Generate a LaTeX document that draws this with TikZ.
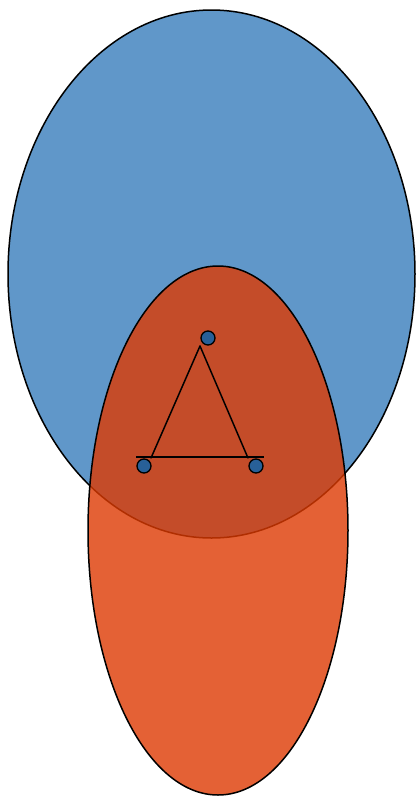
\documentclass[tikz,border=0pt]{standalone}
\usepackage{xcolor}
\usepackage{tikz}
\usetikzlibrary{arrows.meta,shapes,positioning,calc}
\definecolor{vnblue}{RGB}{96,151,201}
\definecolor{vnorange}{RGB}{221,58,2}
\definecolor{vndot}{RGB}{40,96,152}
\tikzset{
  vnsetA/.style={
    ellipse, draw=black, fill=vnblue, line width=1.5pt,
    inner sep=0pt
  },
  vnsetB/.style={
    ellipse, draw=black, fill=vnorange, fill opacity=0.8, line width=1.5pt,
    inner sep=0pt
  },
  vndot/.style={circle,draw=black,fill=vndot,line width=1.3pt,minimum size=14pt,inner sep=0pt},
  vnedge/.style={line width=1.5pt,line cap=round}
}
\begin{document}
\begin{tikzpicture}[x=1pt,y=-1pt]
  \useasboundingbox (0,0) rectangle (417,796);
  \node[vnsetA,minimum width=407pt,minimum height=528pt] (setA) at (211.5,274) {};
  \node[vnsetB,minimum width=260pt,minimum height=529pt] (setB) at (218,530.5) {};
  \node[vndot] (top) at (208,338) {};
  \node[vndot] (left) at (144,466) {};
  \node[vndot] (right) at (256,466) {};
  \coordinate (apex) at ($(top)+(-8,8)$);
  \coordinate (bl) at ($(left)+(7,-8)$);
  \coordinate (br) at ($(right)+(-8,-8)$);
  \draw[vnedge] (apex) -- (bl);
  \draw[vnedge] (apex) -- (br);
  \draw[vnedge,line cap=butt] ($(left)+(-8,-9)$) -- ($(right)+(8,-9)$);
\end{tikzpicture}
\end{document}
